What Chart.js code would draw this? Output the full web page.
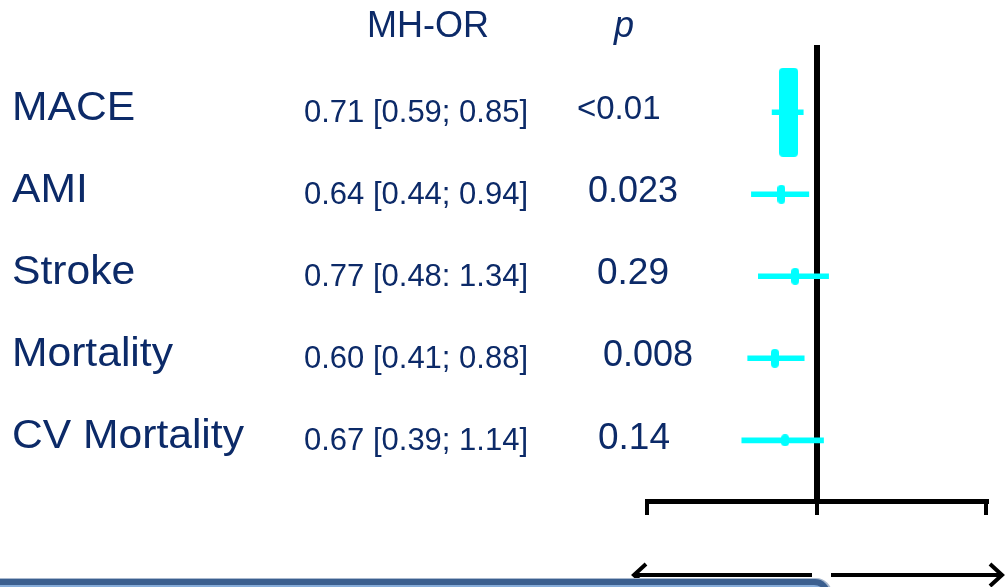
<!DOCTYPE html>
<html>
<head>
<meta charset="utf-8">
<script src="https://cdn.jsdelivr.net/npm/chart.js@4.4.1/dist/chart.umd.min.js"></script>
<style>
  html, body { margin: 0; padding: 0; background: #fff; overflow: hidden; }
</style>
</head>
<body>
<canvas id="forestChart" width="1005" height="587"></canvas>
<script>
// data
const categories = ['MACE', 'AMI', 'Stroke', 'Mortality', 'CV Mortality'];
const orLabels = ['0.71 [0.59; 0.85]', '0.64 [0.44; 0.94]', '0.77 [0.48: 1.34]', '0.60 [0.41; 0.88]', '0.67 [0.39; 1.14]'];
const pLabels = ['<0.01', '0.023', '0.29', '0.008', '0.14'];
const orValues = [0.71, 0.65, 0.77, 0.60, 0.68];
const ciLower = [0.58, 0.45, 0.49, 0.43, 0.40];
const ciUpper = [0.85, 0.91, 1.16, 0.86, 1.09];
const axisTicks = [0.125, 1, 8];

// look
const navy = '#0c2a68';
const cyan = '#00ffff';
const boxW = [19, 8, 8, 8, 8];
const boxH = [89, 19, 17, 19, 12];
const pTextX = [577, 588, 597, 603, 598];
const pFont = [33, 36, 37, 36, 37];

const makeBox = (w, h) => {
    const c = document.createElement('canvas');
    c.width = w; c.height = h;
    const g = c.getContext('2d');
    g.fillStyle = cyan;
    g.beginPath();
    g.roundRect(0, 0, w, h, Math.min(4, w / 2));
    g.fill();
    return c;
};
const boxes = boxW.map((w, i) => makeBox(w, boxH[i]));

const arrow = (ctx, x1, x2, y) => {
    const dir = x2 > x1 ? 1 : -1;
    ctx.beginPath();
    ctx.moveTo(x1, y);
    ctx.lineTo(x2, y);
    ctx.moveTo(x2 - dir * 12, y - 11);
    ctx.lineTo(x2, y);
    ctx.lineTo(x2 - dir * 12, y + 11);
    ctx.stroke();
};

const textPlugin = {
    id: 'forestText',
    afterDraw(chart) {
        const ctx = chart.ctx;
        const ys = chart.scales.y;
        ctx.save();
        ctx.fillStyle = navy;
        ctx.textBaseline = 'middle';

        ctx.font = '36px "Liberation Sans", Arial, sans-serif';
        ctx.textAlign = 'center';
        ctx.fillText('MH-OR', 428, 27);
        ctx.font = 'italic 36px "Liberation Sans", Arial, sans-serif';
        ctx.fillText('p', 624, 27);

        categories.forEach((name, i) => {
            const y = ys.getPixelForValue(i);
            // row names are a bit wider than the font in the source
            ctx.save();
            ctx.translate(12, y - 3);
            ctx.scale(1.065, 1);
            ctx.textAlign = 'left';
            ctx.font = '40px "Liberation Sans", Arial, sans-serif';
            ctx.fillText(name, 0, 0);
            ctx.restore();

            ctx.textAlign = 'center';
            ctx.font = '31px "Liberation Sans", Arial, sans-serif';
            ctx.fillText(orLabels[i], 416, y + 1);
            ctx.textAlign = 'left';
            ctx.font = pFont[i] + 'px "Liberation Sans", Arial, sans-serif';
            ctx.fillText(pLabels[i], pTextX[i], y - 2);
        });

        // arrows under the axis
        ctx.strokeStyle = '#000';
        ctx.lineWidth = 4;
        arrow(ctx, 812, 634, 575);
        arrow(ctx, 831, 1002, 575);

        // blue band at the bottom
        ctx.fillStyle = '#a9b9cf';
        ctx.beginPath();
        ctx.roundRect(-20, 578, 852, 40, 16);
        ctx.fill();
        ctx.fillStyle = '#3b5f8f';
        ctx.beginPath();
        ctx.roundRect(-20, 579, 850, 40, 15);
        ctx.fill();
        ctx.fillStyle = '#86acd9';
        ctx.beginPath();
        ctx.roundRect(-20, 585, 846, 40, 12);
        ctx.fill();
        ctx.restore();
    }
};

const forestChart = new Chart(document.getElementById('forestChart'), {
    type: 'bar',
    data: {
        datasets: [{
            type: 'scatter',
            label: 'MH-OR',
            data: orValues.map((v, i) => ({ x: v, y: i })),
            pointStyle: boxes,
            pointRadius: 10,
            order: 0
        }, {
            label: 'CI',
            data: ciLower.map((v, i) => ({ x: [v, ciUpper[i]], y: i })),
            backgroundColor: cyan,
            barThickness: 5,
            order: 1
        }]
    },
    options: {
        indexAxis: 'y',
        responsive: false,
        animation: false,
        layout: { padding: { left: 647, right: 19, top: 45, bottom: 72 } },
        plugins: { legend: { display: false }, tooltip: { enabled: false } },
        scales: {
            x: {
                type: 'logarithmic',
                min: axisTicks[0],
                max: axisTicks[2],
                z: 1,
                afterBuildTicks: (scale) => {
                    scale.ticks = axisTicks.map(v => ({ value: v }));
                },
                ticks: { display: false },
                grid: {
                    color: (c) => c.tick && c.tick.value === 1 ? '#000' : 'rgba(0,0,0,0)',
                    lineWidth: 6,
                    tickColor: '#000',
                    tickWidth: 4,
                    tickLength: 14
                },
                border: { display: true, color: '#000', width: 5 }
            },
            y: {
                type: 'linear',
                reverse: true,
                offset: false,
                grid: { offset: false },
                min: -0.82,
                max: 4.74,
                display: false
            }
        }
    },
    plugins: [textPlugin]
});
</script>
</body>
</html>
